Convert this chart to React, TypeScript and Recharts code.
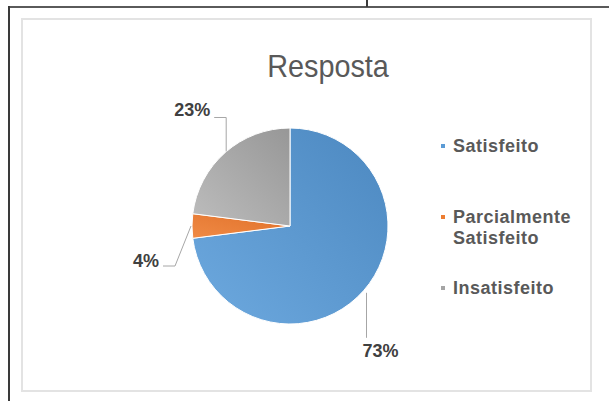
import React from "react";
import { PieChart, Pie, Cell, Legend } from "recharts";

const categories = ["Satisfeito", "Parcialmente Satisfeito", "Insatisfeito"];
const values = [73, 4, 23];
const colors = ["#5B9BD5", "#ED7D31", "#A5A5A5"];
const gradLight = ["#6DA9DF", "#F08A45", "#BDBDBD"];
const gradDark = ["#4C88C0", "#E0712A", "#979797"];

const data = categories.map((name, i) => ({ name, value: values[i] }));

const FONT = '"Liberation Sans", Arial, sans-serif';

const renderLabel = (p: any) => {
  const { cx, cy, midAngle, outerRadius, percent, index } = p;
  const RAD = Math.PI / 180;
  const ex = cx + outerRadius * Math.cos(-midAngle * RAD);
  const ey = cy + outerRadius * Math.sin(-midAngle * RAD);
  const txt = `${Math.round(percent * 100)}%`;
  let pts: [number, number][] = [];
  let tx = 0;
  let ty = 0;
  let anchor: "start" | "end" | "middle" = "start";
  if (index === 0) {
    pts = [[ex + 3, ey + 2], [ex + 3, ey + 47]];
    tx = ex - 1;
    ty = ey + 66;
    anchor = "start";
  } else if (index === 1) {
    pts = [[ex - 1, ey], [ex - 17, ey + 40], [ex - 29, ey + 40]];
    tx = ex - 33;
    ty = ey + 41;
    anchor = "end";
  } else {
    pts = [[ex + 1, ey - 1], [ex + 1, ey - 35], [ex - 11, ey - 35]];
    tx = ex - 15;
    ty = ey - 36;
    anchor = "end";
  }
  return (
    <g key={`lbl-${index}`}>
      <polyline
        points={pts.map((q) => q.join(",")).join(" ")}
        fill="none"
        stroke="#A6A6A6"
        strokeWidth={1}
      />
      <text
        x={tx}
        y={ty}
        textAnchor={anchor}
        fontFamily={FONT}
        fontSize={18}
        fontWeight="bold"
        fill="#404040"
      >
        {txt}
      </text>
    </g>
  );
};

const LegendContent = () => (
  <div style={{ fontFamily: FONT }}>
    {categories.map((name, i) => (
      <div key={name} style={{ display: "flex", alignItems: "flex-start", height: 71 }}>
        <div
          style={{
            width: 4,
            height: 4,
            marginTop: 8,
            background: colors[i],
            flex: "0 0 auto",
          }}
        />
        <div
          style={{
            marginLeft: 8,
            width: 135,
            fontSize: 18,
            lineHeight: "21px",
            fontWeight: "bold",
            letterSpacing: 0.5,
            color: "#595959",
          }}
        >
          {name}
        </div>
      </div>
    ))}
  </div>
);

export default function App() {
  return (
    <div
      style={{
        position: "absolute",
        left: 0,
        top: 0,
        width: 609,
        height: 401,
        background: "#fff",
        overflow: "hidden",
        fontFamily: FONT,
      }}
    >
      {/* table lines */}
      <div style={{ position: "absolute", left: 9, top: 6, width: 600, height: 2, background: "#5a5a5a" }} />
      <div style={{ position: "absolute", left: 8, top: 6, width: 2, height: 395, background: "#3a3a3a" }} />
      <div style={{ position: "absolute", left: 366, top: 0, width: 2, height: 7, background: "#3a3a3a" }} />
      {/* chart box */}
      <div
        style={{
          position: "absolute",
          left: 21,
          top: 18,
          width: 567,
          height: 370,
          border: "2px solid #E3E3E3",
        }}
      />
      <div
        style={{
          position: "absolute",
          left: 228,
          top: 50,
          width: 200,
          textAlign: "center",
          fontSize: 32,
          lineHeight: "32px",
          color: "#595959",
          transform: "scaleX(0.9)",
        }}
      >
        Resposta
      </div>
      <div style={{ position: "absolute", left: 0, top: 0 }}>
        <PieChart width={609} height={401} margin={{ top: 0, right: 0, bottom: 0, left: 0 }}>
          <defs>
            {colors.map((c, i) => (
              <linearGradient key={c} id={`g${i}`} x1="0" y1="1" x2="1" y2="0">
                <stop offset="0%" stopColor={gradLight[i]} />
                <stop offset="100%" stopColor={gradDark[i]} />
              </linearGradient>
            ))}
          </defs>
          <Pie
            data={data}
            dataKey="value"
            nameKey="name"
            cx={290}
            cy={226}
            outerRadius={98}
            startAngle={90}
            endAngle={-270}
            stroke="#ffffff"
            strokeWidth={1}
            label={renderLabel}
            labelLine={false}
            isAnimationActive={false}
          >
            {data.map((d, i) => (
              <Cell key={d.name} fill={`url(#g${i})`} />
            ))}
          </Pie>
          <Legend
            layout="vertical"
            align="right"
            verticalAlign="top"
            content={<LegendContent />}
            wrapperStyle={{ left: 441, top: 136, width: 150, height: 220 }}
          />
        </PieChart>
      </div>
    </div>
  );
}
